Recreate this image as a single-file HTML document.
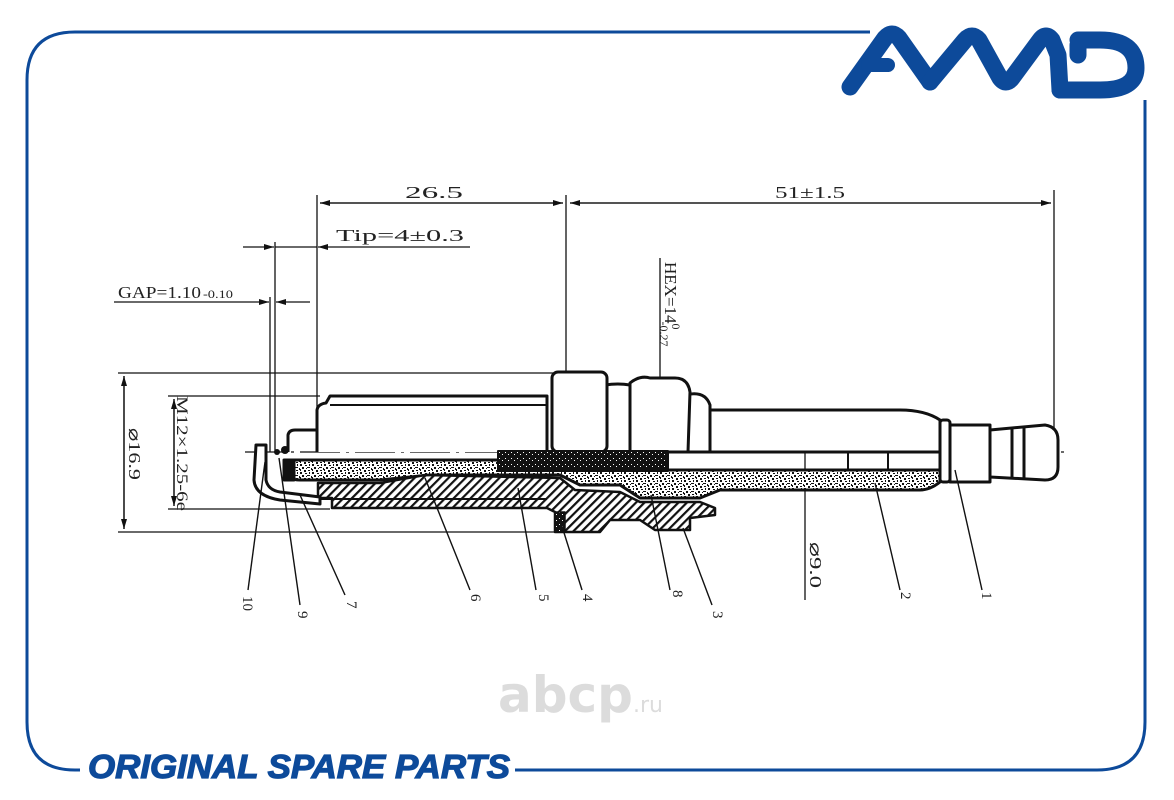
<!DOCTYPE html>
<html><head><meta charset="utf-8"><style>
html,body{margin:0;padding:0;background:#fff;}
svg{display:block;}
.d{font-family:"Liberation Serif",serif;fill:#222;}
</style></head><body>
<svg width="1174" height="800" viewBox="0 0 1174 800" xmlns="http://www.w3.org/2000/svg">
<defs>
<pattern id="hatch" width="6" height="6" patternUnits="userSpaceOnUse" patternTransform="rotate(45)">
<rect width="6" height="6" fill="#fff"/><rect width="2.2" height="6" fill="#111"/>
</pattern>
<pattern id="speck" width="12" height="8" patternUnits="userSpaceOnUse">
<rect width="12" height="8" fill="#fff"/>
<rect x="0" y="0" width="2" height="2" fill="#111"/><rect x="5" y="1" width="2" height="1" fill="#111"/>
<rect x="9" y="0" width="1" height="2" fill="#111"/><rect x="2" y="3" width="2" height="2" fill="#111"/>
<rect x="7" y="3" width="3" height="1" fill="#111"/><rect x="11" y="4" width="1" height="2" fill="#111"/>
<rect x="0" y="5" width="1" height="2" fill="#111"/><rect x="4" y="6" width="2" height="2" fill="#111"/>
<rect x="8" y="6" width="2" height="1" fill="#111"/><rect x="6" y="4" width="1" height="1" fill="#111"/>
</pattern>
<pattern id="dark" width="6" height="6" patternUnits="userSpaceOnUse">
<rect width="6" height="6" fill="#111"/><rect x="1" y="2" width="1" height="1" fill="#fff"/><rect x="4" y="4" width="1" height="1" fill="#fff"/>
</pattern>
<marker id="ar" markerWidth="10" markerHeight="6" refX="10" refY="3" orient="auto" markerUnits="userSpaceOnUse">
<path d="M0,0 L10,3 L0,6 Z" fill="#111"/></marker>
</defs>

<g fill="none" stroke="#0d4a9a" stroke-width="3">
<path d="M870,32 L75,32 Q27,32 27,80 L27,722 Q27,770 75,770 L80,770"/>
<path d="M515,770 L1097,770 Q1145,770 1145,722 L1145,100"/>
</g>
<g fill="none" stroke="#0d4a9a" stroke-width="17" stroke-linecap="round" stroke-linejoin="round">
<path d="M850,87 L885,38 Q892,30 899,38 L930,82"/>
<path d="M868,65 L888,65" stroke-width="14"/>
<path d="M930,82 L965,40 Q972,32 979,40 L1000,78 Q1006,86 1012,78 L1040,40 Q1046,32 1052,40 L1058,55 L1060,90"/>
<path d="M1078,45 L1078,55 M1078,40 L1100,40 Q1136,40 1136,68 Q1136,90 1100,90 L1060,90"/>
</g>
<text x="88" y="778" style="font-family:'Liberation Sans',sans-serif;font-size:33px;font-weight:bold;font-style:italic;fill:#0d4a9a;stroke:#0d4a9a;stroke-width:1.2" textLength="422" lengthAdjust="spacingAndGlyphs">ORIGINAL SPARE PARTS</text>

<g stroke="#111" stroke-width="1.3" fill="none">
<line x1="317" y1="195" x2="317" y2="452"/>
<line x1="566" y1="195" x2="566" y2="372"/>
<line x1="1054" y1="190" x2="1054" y2="428"/>
<line x1="320" y1="203" x2="563" y2="203" marker-end="url(#ar)"/>
<line x1="563" y1="203" x2="320" y2="203" marker-end="url(#ar)"/>
<line x1="570" y1="203" x2="1051" y2="203" marker-end="url(#ar)"/>
<line x1="1051" y1="203" x2="570" y2="203" marker-end="url(#ar)"/>
<line x1="275" y1="242" x2="275" y2="452"/>
<line x1="270" y1="297" x2="270" y2="452"/>
<line x1="243" y1="247" x2="274" y2="247" marker-end="url(#ar)"/>
<line x1="470" y1="247" x2="318" y2="247" marker-end="url(#ar)"/>
<line x1="275" y1="247" x2="317" y2="247"/>
<line x1="114" y1="302" x2="269" y2="302" marker-end="url(#ar)"/>
<line x1="310" y1="302" x2="276" y2="302" marker-end="url(#ar)"/>
<line x1="118" y1="373" x2="560" y2="373"/>
<line x1="118" y1="532" x2="560" y2="532"/>
<line x1="168" y1="396" x2="320" y2="396"/>
<line x1="168" y1="509" x2="330" y2="509"/>
<line x1="124" y1="376" x2="124" y2="529" marker-end="url(#ar)"/>
<line x1="124" y1="529" x2="124" y2="376" marker-end="url(#ar)"/>
<line x1="174" y1="399" x2="174" y2="506" marker-end="url(#ar)"/>
<line x1="174" y1="506" x2="174" y2="399" marker-end="url(#ar)"/>
<line x1="660" y1="258" x2="660" y2="385"/>
<line x1="805" y1="600" x2="805" y2="414" marker-end="url(#ar)"/>
<line x1="245" y1="452" x2="1068" y2="452" stroke-dasharray="40,6,3,6"/>
</g>
<g class="d" style="font-size:17px">
<text class="d" x="405" y="198" textLength="58" lengthAdjust="spacingAndGlyphs">26.5</text>
<text class="d" x="775" y="198" textLength="70" lengthAdjust="spacingAndGlyphs">51±1.5</text>
<text class="d" x="336" y="241" textLength="128" lengthAdjust="spacingAndGlyphs">Tip=4±0.3</text>
<text class="d" x="118" y="298" textLength="83" lengthAdjust="spacingAndGlyphs">GAP=1.10</text>
<text class="d" x="203" y="298" style="font-size:12px" textLength="30" lengthAdjust="spacingAndGlyphs">-0.10</text>
<text class="d" transform="translate(665,262) rotate(90)">HEX=14<tspan style="font-size:12px" dy="-7">0</tspan><tspan style="font-size:12px" dy="12" dx="-8">-0.27</tspan></text>
<text class="d" transform="translate(129,428) rotate(90)" textLength="52" lengthAdjust="spacingAndGlyphs">⌀16.9</text>
<text class="d" transform="translate(177,396) rotate(90)" style="font-size:16px" textLength="115" lengthAdjust="spacingAndGlyphs">M12×1.25-6e</text>
<text class="d" transform="translate(810,542) rotate(90)" textLength="46" lengthAdjust="spacingAndGlyphs">⌀9.0</text>
</g>

<g stroke="#111" stroke-width="3" fill="#fff" stroke-linejoin="round">
<path d="M708,452 L708,410 L900,410 Q925,410 940,420 L940,452 Z"/>
<path d="M685,452 L685,395 Q705,390 710,405 L710,452 Z"/>
<path d="M630,452 L630,383 Q640,375 650,378 L675,378 Q688,378 690,392 L688,452 Z"/>
<path d="M605,452 L605,385 Q618,383 630,385 L630,452"/>
<rect x="552" y="372" width="55" height="80" rx="6"/>
<path d="M317,452 L317,410 Q318,404 326,403 L330,396 L547,396 L547,452"/>
<line x1="330" y1="405" x2="547" y2="405" stroke-width="2"/>
<path d="M288,452 L288,435 Q289,430 295,430 L317,430"/>
<rect x="940" y="420" width="10" height="62" rx="3"/>
<rect x="950" y="425" width="40" height="57"/>
<path d="M990,430 L1045,425 Q1058,427 1058,440 L1058,467 Q1058,480 1045,480 L990,477 Z"/>
<line x1="1012" y1="428" x2="1012" y2="478"/><line x1="1024" y1="427" x2="1024" y2="479"/>
<path d="M288,460 L500,460 L500,470 L940,470 L940,482 Q930,490 920,490 L720,490 L700,498 L640,498 L620,485 L580,485 L560,475 L430,475 L380,480 L300,480 Q288,480 288,472 Z" fill="url(#speck)"/>
<rect x="498" y="451" width="170" height="20" fill="url(#dark)" stroke-width="2"/>
<path d="M318,483 L380,483 L425,475 L560,478 L575,490 L620,492 L640,502 L700,502 L715,508 L715,515 L690,518 L690,530 L655,530 L640,520 L610,520 L600,532 L555,532 L555,512 L547,508 L332,508 L332,498 L318,498 Z" fill="url(#hatch)" stroke-width="2.5"/>
<rect x="555" y="512" width="10" height="20" fill="url(#dark)" stroke-width="1.5"/>
<line x1="318" y1="499" x2="547" y2="499" stroke-width="2"/>
<path d="M256,445 L266,445 L266,480 Q268,490 280,492 L320,497 L320,504 L280,500 Q255,496 254,480 Z"/>
<rect x="284" y="460" width="10" height="20" fill="#111"/>
</g>
<g fill="#111"><circle cx="277" cy="452" r="3"/><circle cx="285" cy="450" r="4"/></g>
<line x1="848" y1="452" x2="848" y2="470" stroke="#111" stroke-width="2"/>
<line x1="888" y1="452" x2="888" y2="470" stroke="#111" stroke-width="2"/>

<g stroke="#111" stroke-width="1.4">
<line x1="265" y1="462" x2="248" y2="590"/>
<line x1="279" y1="458" x2="300" y2="605"/>
<line x1="300" y1="495" x2="345" y2="595"/>
<line x1="425" y1="478" x2="470" y2="590"/>
<line x1="518" y1="488" x2="536" y2="590"/>
<line x1="560" y1="520" x2="582" y2="590"/>
<line x1="651" y1="495" x2="670" y2="590"/>
<line x1="683" y1="528" x2="712" y2="605"/>
<line x1="875" y1="483" x2="900" y2="590"/>
<line x1="955" y1="470" x2="982" y2="590"/>
</g>
<g class="d" style="font-size:15px">
<text class="d" transform="translate(243,596) rotate(90)">10</text>
<text class="d" transform="translate(298,611) rotate(90)">9</text>
<text class="d" transform="translate(347,601) rotate(90)">7</text>
<text class="d" transform="translate(471,594) rotate(90)">6</text>
<text class="d" transform="translate(539,594) rotate(90)">5</text>
<text class="d" transform="translate(583,594) rotate(90)">4</text>
<text class="d" transform="translate(673,590) rotate(90)">8</text>
<text class="d" transform="translate(713,611) rotate(90)">3</text>
<text class="d" transform="translate(901,592) rotate(90)">2</text>
<text class="d" transform="translate(982,592) rotate(90)">1</text>
</g>
<text x="498" y="712" style="font-family:'DejaVu Sans','Liberation Sans',sans-serif;font-size:50px;font-weight:bold;fill:#dcdcdc">abcp<tspan style="font-size:22px;font-weight:normal">.ru</tspan></text>
</svg>
</body></html>
